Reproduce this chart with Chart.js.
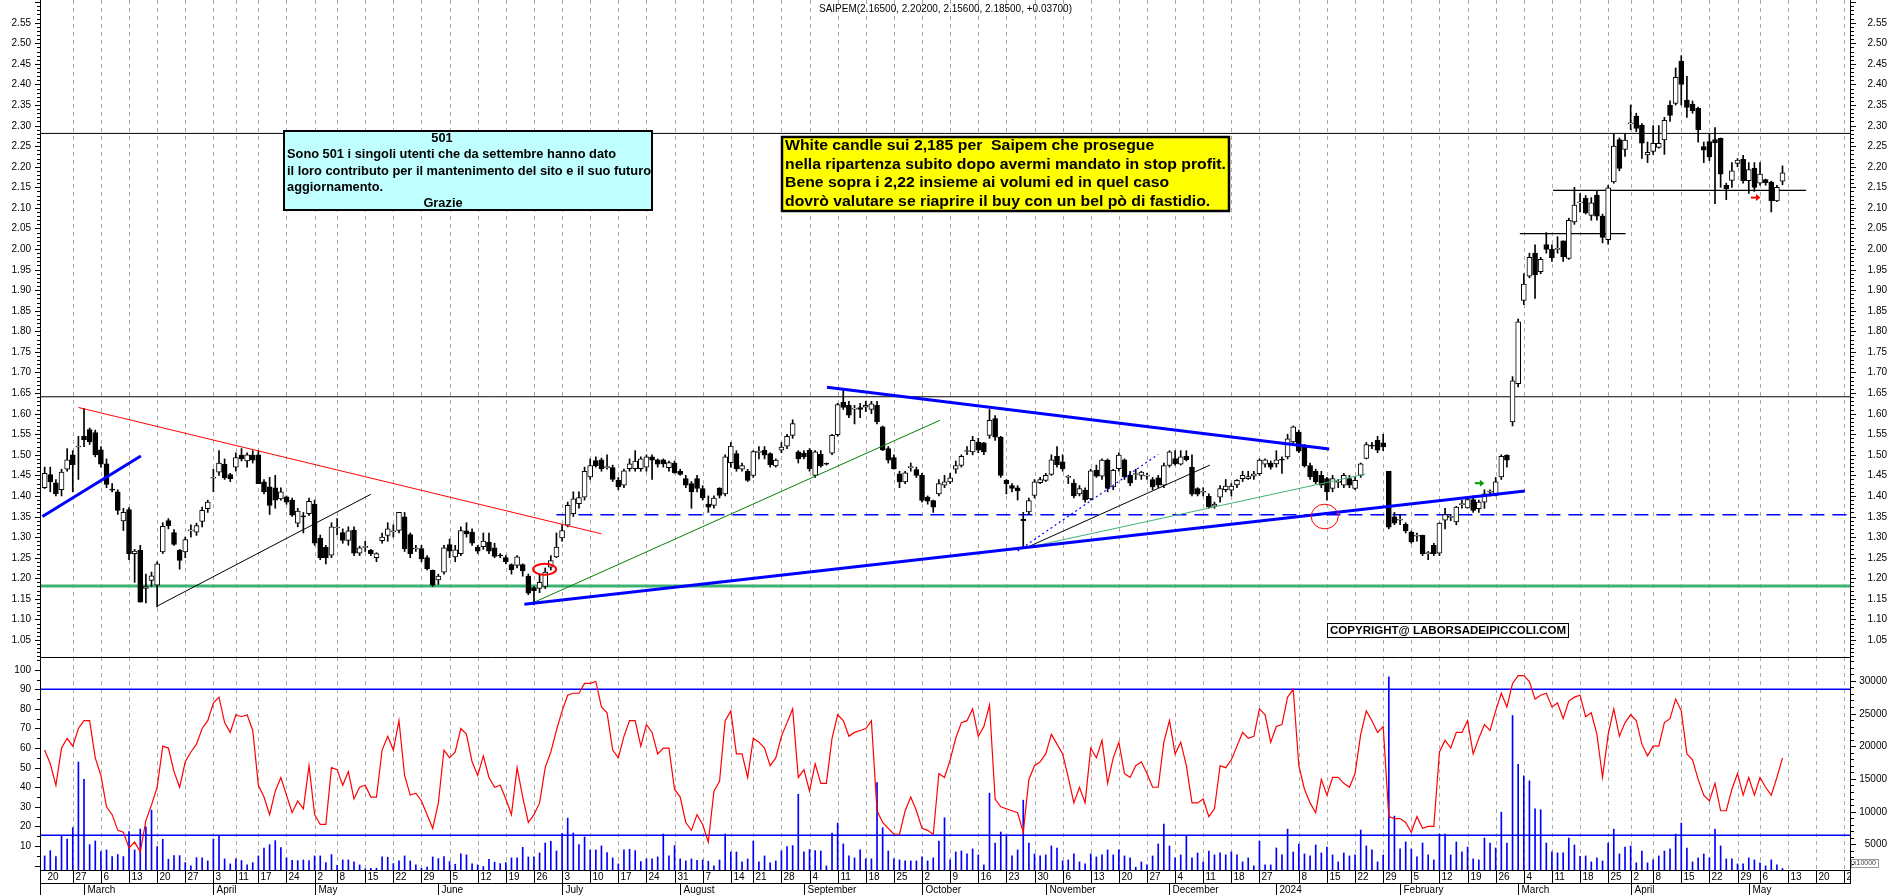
<!DOCTYPE html>
<html>
<head>
<meta charset="utf-8">
<title>SAIPEM</title>
<script src="https://cdn.jsdelivr.net/npm/chart.js@4.4.1/dist/chart.umd.min.js"></script>
<style>
  html, body { margin: 0; padding: 0; background: #fff; }
  #wrap { position: relative; width: 1890px; height: 895px; overflow: hidden; }
  canvas { position: absolute; left: 0; }
  #priceChart { top: 0; }
  #indChart { top: 657px; }
</style>
</head>
<body>
<div id="wrap">
  <canvas id="priceChart" width="1890" height="657"></canvas>
  <canvas id="indChart" width="1890" height="238"></canvas>
</div>
<script>
// ====== data: daily candles, trading day index 0 = 20 Feb 2023 ======
const openP = [
  1.42,1.452,1.432,1.415,1.465,1.50,1.519,1.545,1.561,1.554,
  1.512,1.478,1.416,1.41,1.339,1.367,1.26,1.268,1.175,1.195,
  1.183,1.264,1.34,1.311,1.268,1.264,1.315,1.312,1.338,1.369,
  1.443,1.458,1.477,1.452,1.47,1.499,1.485,1.499,1.50,1.434,
  1.422,1.42,1.393,1.398,1.39,1.334,1.351,1.357,1.38,1.297,
  1.275,1.256,1.322,1.311,1.292,1.317,1.261,1.275,1.268,1.25,
  1.291,1.304,1.313,1.316,1.349,1.306,1.271,1.272,1.25,1.219,
  1.196,1.215,1.282,1.252,1.26,1.315,1.312,1.276,1.277,1.288,
  1.274,1.255,1.25,1.233,1.231,1.233,1.205,1.177,1.175,1.18,
  1.227,1.252,1.298,1.329,1.357,1.381,1.397,1.446,1.486,1.488,
  1.469,1.469,1.438,1.426,1.466,1.466,1.466,1.47,1.495,1.488,
  1.488,1.469,1.48,1.46,1.442,1.43,1.442,1.418,1.38,1.377,
  1.419,1.405,1.481,1.503,1.465,1.46,1.45,1.506,1.511,1.503,
  1.473,1.511,1.521,1.547,1.507,1.504,1.511,1.45,1.501,1.478,
  1.504,1.549,1.628,1.62,1.611,1.615,1.616,1.61,1.62,1.568,
  1.515,1.493,1.454,1.434,1.469,1.464,1.45,1.397,1.389,1.405,
  1.426,1.434,1.465,1.474,1.508,1.507,1.531,1.529,1.547,1.588,
  1.543,1.438,1.425,1.42,1.343,1.361,1.401,1.432,1.438,1.452,
  1.496,1.483,1.445,1.431,1.405,1.414,1.393,1.462,1.448,1.487,
  1.422,1.466,1.488,1.45,1.452,1.45,1.448,1.44,1.444,1.426,
  1.474,1.491,1.477,1.496,1.47,1.418,1.409,1.399,1.375,1.397,
  1.415,1.414,1.427,1.442,1.442,1.448,1.454,1.477,1.48,1.478,
  1.489,1.495,1.531,1.555,1.519,1.474,1.46,1.45,1.442,1.418,
  1.433,1.426,1.442,1.418,1.45,1.491,1.523,1.535,1.529,1.46,
  1.349,1.341,1.331,1.312,1.302,1.304,1.26,1.28,1.261,1.341,
  1.348,1.337,1.379,1.371,1.391,1.369,1.385,1.409,1.401,1.446,
  1.499,1.58,1.673,1.875,1.934,1.99,1.945,2.011,1.999,1.999,
  2.02,1.977,2.066,2.112,2.123,2.082,2.131,2.08,2.023,2.163,
  2.266,2.242,2.304,2.323,2.301,2.229,2.237,2.247,2.265,2.35,
  2.354,2.457,2.362,2.352,2.342,2.249,2.261,2.266,2.269,2.155,
  2.167,2.208,2.218,2.166,2.196,2.16,2.169,2.163,2.117,2.165
];
const highP = [
  1.47,1.47,1.44,1.465,1.515,1.51,1.545,1.612,1.565,1.56,
  1.52,1.49,1.43,1.415,1.37,1.372,1.27,1.28,1.21,1.215,
  1.24,1.335,1.345,1.318,1.27,1.30,1.33,1.334,1.373,1.39,
  1.465,1.51,1.49,1.455,1.505,1.515,1.505,1.51,1.51,1.44,
  1.445,1.45,1.42,1.40,1.395,1.37,1.36,1.395,1.39,1.305,
  1.28,1.335,1.345,1.32,1.325,1.325,1.278,1.29,1.27,1.262,
  1.31,1.335,1.33,1.36,1.36,1.31,1.28,1.28,1.255,1.22,
  1.21,1.28,1.295,1.28,1.325,1.335,1.32,1.28,1.31,1.31,
  1.285,1.26,1.255,1.235,1.255,1.235,1.21,1.18,1.21,1.225,
  1.255,1.31,1.33,1.385,1.41,1.41,1.47,1.49,1.495,1.492,
  1.50,1.475,1.445,1.465,1.49,1.51,1.495,1.50,1.50,1.49,
  1.49,1.485,1.485,1.465,1.45,1.435,1.45,1.425,1.40,1.40,
  1.42,1.50,1.53,1.51,1.48,1.465,1.51,1.52,1.52,1.505,
  1.49,1.53,1.55,1.585,1.51,1.51,1.515,1.51,1.51,1.48,
  1.55,1.625,1.658,1.63,1.62,1.625,1.63,1.63,1.63,1.57,
  1.52,1.50,1.46,1.46,1.48,1.47,1.455,1.40,1.39,1.44,
  1.45,1.455,1.485,1.50,1.52,1.545,1.54,1.53,1.61,1.595,
  1.545,1.44,1.43,1.425,1.36,1.395,1.44,1.445,1.455,1.50,
  1.52,1.50,1.45,1.44,1.425,1.42,1.465,1.475,1.49,1.49,
  1.465,1.505,1.49,1.46,1.465,1.46,1.455,1.445,1.45,1.48,
  1.51,1.51,1.51,1.51,1.50,1.42,1.42,1.405,1.385,1.425,
  1.44,1.43,1.44,1.46,1.46,1.46,1.49,1.49,1.485,1.51,
  1.495,1.55,1.57,1.56,1.525,1.48,1.465,1.46,1.445,1.45,
  1.44,1.455,1.45,1.445,1.48,1.53,1.53,1.545,1.55,1.46,
  1.36,1.355,1.335,1.315,1.31,1.305,1.265,1.285,1.335,1.37,
  1.355,1.375,1.39,1.395,1.40,1.39,1.415,1.415,1.445,1.50,
  1.50,1.69,1.83,1.94,1.99,2.01,1.98,2.04,2.01,2.03,
  2.02,2.075,2.15,2.135,2.13,2.125,2.14,2.085,2.155,2.28,
  2.27,2.28,2.35,2.33,2.305,2.26,2.30,2.30,2.32,2.36,
  2.44,2.47,2.42,2.36,2.345,2.26,2.28,2.295,2.27,2.16,
  2.21,2.22,2.228,2.21,2.21,2.21,2.17,2.165,2.155,2.202
];
const lowP = [
  1.418,1.41,1.40,1.40,1.46,1.41,1.44,1.52,1.525,1.495,
  1.47,1.42,1.41,1.355,1.316,1.245,1.19,1.142,1.14,1.18,
  1.13,1.26,1.32,1.28,1.222,1.25,1.30,1.304,1.325,1.36,
  1.41,1.45,1.44,1.435,1.46,1.485,1.47,1.48,1.43,1.405,
  1.355,1.37,1.39,1.38,1.35,1.325,1.31,1.352,1.28,1.245,
  1.235,1.25,1.305,1.285,1.28,1.255,1.255,1.265,1.255,1.24,
  1.285,1.29,1.30,1.31,1.265,1.25,1.265,1.24,1.22,1.18,
  1.185,1.21,1.25,1.24,1.255,1.30,1.28,1.26,1.27,1.26,
  1.25,1.25,1.235,1.21,1.225,1.205,1.16,1.135,1.165,1.175,
  1.22,1.25,1.29,1.325,1.35,1.37,1.39,1.44,1.47,1.46,
  1.465,1.435,1.415,1.42,1.46,1.46,1.46,1.46,1.44,1.47,
  1.47,1.46,1.455,1.45,1.42,1.37,1.41,1.39,1.36,1.37,
  1.395,1.40,1.47,1.46,1.46,1.435,1.445,1.49,1.49,1.47,
  1.47,1.505,1.515,1.54,1.48,1.49,1.46,1.445,1.47,1.475,
  1.50,1.545,1.61,1.59,1.575,1.59,1.605,1.60,1.575,1.51,
  1.48,1.465,1.42,1.43,1.46,1.445,1.385,1.38,1.36,1.40,
  1.42,1.43,1.455,1.47,1.50,1.50,1.505,1.50,1.54,1.535,
  1.445,1.405,1.41,1.39,1.275,1.355,1.395,1.43,1.435,1.45,
  1.47,1.46,1.43,1.395,1.40,1.385,1.39,1.445,1.44,1.41,
  1.415,1.46,1.44,1.425,1.44,1.44,1.44,1.415,1.42,1.42,
  1.47,1.475,1.475,1.485,1.40,1.40,1.40,1.37,1.37,1.385,
  1.41,1.40,1.42,1.435,1.44,1.44,1.45,1.47,1.465,1.47,
  1.455,1.49,1.525,1.505,1.47,1.44,1.43,1.42,1.39,1.41,
  1.42,1.42,1.42,1.415,1.445,1.49,1.515,1.505,1.51,1.32,
  1.33,1.33,1.31,1.285,1.29,1.255,1.245,1.255,1.255,1.32,
  1.34,1.33,1.37,1.37,1.36,1.36,1.37,1.40,1.40,1.44,
  1.47,1.57,1.665,1.865,1.93,1.88,1.94,1.99,1.97,1.99,
  1.97,1.975,2.06,2.09,2.085,2.07,2.07,2.015,2.012,2.16,
  2.19,2.225,2.29,2.285,2.22,2.21,2.23,2.245,2.23,2.31,
  2.35,2.35,2.32,2.33,2.26,2.21,2.215,2.11,2.15,2.12,
  2.15,2.20,2.16,2.135,2.14,2.155,2.155,2.09,2.115,2.156
];
const closeP = [
  1.455,1.434,1.405,1.458,1.488,1.476,1.521,1.537,1.531,1.50,
  1.477,1.428,1.414,1.365,1.36,1.26,1.266,1.142,1.18,1.206,
  1.235,1.326,1.328,1.282,1.243,1.294,1.317,1.328,1.365,1.385,
  1.445,1.48,1.444,1.442,1.493,1.49,1.50,1.487,1.43,1.41,
  1.377,1.39,1.41,1.385,1.353,1.363,1.349,1.387,1.285,1.25,
  1.25,1.325,1.324,1.292,1.315,1.261,1.274,1.277,1.26,1.26,
  1.30,1.32,1.315,1.36,1.272,1.26,1.273,1.247,1.223,1.183,
  1.205,1.274,1.266,1.269,1.316,1.308,1.285,1.266,1.29,1.266,
  1.253,1.254,1.24,1.221,1.252,1.218,1.164,1.17,1.19,1.215,
  1.243,1.276,1.316,1.377,1.393,1.396,1.46,1.474,1.473,1.466,
  1.471,1.44,1.422,1.461,1.478,1.485,1.49,1.495,1.487,1.477,
  1.478,1.481,1.456,1.452,1.426,1.41,1.418,1.396,1.373,1.395,
  1.401,1.495,1.521,1.466,1.474,1.438,1.508,1.508,1.499,1.476,
  1.487,1.519,1.545,1.576,1.49,1.495,1.466,1.507,1.473,1.477,
  1.547,1.622,1.615,1.596,1.613,1.61,1.62,1.624,1.58,1.512,
  1.487,1.466,1.434,1.456,1.471,1.45,1.389,1.387,1.373,1.43,
  1.434,1.444,1.474,1.496,1.51,1.535,1.511,1.507,1.584,1.543,
  1.45,1.43,1.418,1.412,1.339,1.389,1.434,1.44,1.45,1.488,
  1.476,1.466,1.447,1.40,1.418,1.391,1.461,1.448,1.487,1.418,
  1.462,1.499,1.446,1.431,1.454,1.458,1.45,1.422,1.426,1.474,
  1.507,1.478,1.495,1.488,1.404,1.404,1.411,1.373,1.38,1.418,
  1.424,1.424,1.438,1.45,1.447,1.454,1.487,1.488,1.47,1.488,
  1.487,1.539,1.568,1.509,1.473,1.446,1.434,1.426,1.41,1.442,
  1.435,1.45,1.426,1.438,1.478,1.525,1.521,1.511,1.519,1.324,
  1.334,1.342,1.315,1.288,1.304,1.26,1.261,1.26,1.334,1.355,
  1.35,1.373,1.381,1.391,1.365,1.385,1.405,1.411,1.434,1.496,
  1.487,1.68,1.823,1.915,1.98,1.937,1.975,1.999,1.979,2.001,
  1.981,2.07,2.107,2.114,2.088,2.112,2.08,2.028,2.149,2.25,
  2.196,2.265,2.306,2.293,2.257,2.235,2.257,2.257,2.313,2.325,
  2.417,2.40,2.344,2.336,2.29,2.24,2.224,2.258,2.182,2.147,
  2.19,2.216,2.166,2.193,2.15,2.182,2.161,2.117,2.15,2.185
];
const rsiVals = [
  59,52,41,60,65,61,70,74,74,55,
  46,30,26,18,17,9,12,7,23,31,
  40,61,60,48,40,53,58,62,70,74,
  83,86,73,68,77,76,77,69,41,35,
  26,38,45,36,27,33,29,51,26,21,
  21,50,49,41,48,34,40,41,35,35,
  59,66,59,74,46,36,37,33,26,19,
  32,59,55,58,70,67,53,46,56,45,
  40,41,34,26,50,35,22,26,32,50,
  58,69,79,87,88,88,93,93,94,81,
  78,59,55,66,74,74,61,72,68,57,
  60,60,39,35,22,18,26,21,12,38,
  43,74,79,57,57,45,65,63,60,51,
  55,66,73,80,45,49,38,52,42,42,
  65,77,74,66,68,69,70,74,28,22,
  19,16,16,28,35,28,19,18,16,47,
  45,54,65,73,74,80,66,71,82,34,
  30,29,28,27,17,44,51,53,57,67,
  62,57,45,32,40,32,60,55,64,42,
  55,63,47,45,51,53,47,40,40,63,
  74,57,63,51,32,32,34,25,29,51,
  50,54,61,68,65,66,80,77,63,71,
  72,86,90,51,39,32,27,44,36,45,
  45,42,40,47,67,79,74,68,71,25,
  24,24,22,17,25,19,20,20,58,64,
  60,68,68,74,57,65,72,69,79,88,
  81,93,97,97,94,85,87,88,81,83,
  75,84,86,87,76,78,67,45,67,80,
  66,73,77,74,62,56,61,61,73,75,
  85,79,57,54,44,36,33,42,28,28,
  39,47,36,45,36,45,40,36,45,55
];
const volVals = [
  3220,4035,3120,6370,5810,7540,17590,14950,4950,5510,
  3880,4140,3120,3430,3120,6930,4140,7330,7690,10230,
  4640,5760,2720,3270,3270,2200,1700,2970,2920,2460,
  5810,6370,2770,2000,2770,2510,1850,2200,3220,4440,
  4950,5560,4490,2920,2560,2510,2610,2510,3220,3220,
  2200,3430,1800,2610,2610,2310,1850,1240,1340,1340,
  3070,3020,2050,2460,3220,2460,1850,1340,1500,3070,
  2820,3120,2360,1950,3530,3380,2000,1850,1600,2720,
  2260,2050,2200,2920,2920,4540,3070,3070,3680,5200,
  5460,3980,6680,9010,6730,4950,6120,4140,4140,4750,
  3730,2920,2000,4140,4240,4035,2360,2770,2770,3070,
  6570,3220,4800,2770,2460,2770,2560,2610,2410,1700,
  2610,6570,3830,3830,2310,2770,5510,2310,3220,2160,
  2460,3980,4640,4800,12660,3830,4190,4035,3980,1700,
  6730,8250,5050,3220,2920,4140,2770,2770,14440,7540,
  3980,2770,2610,2460,2460,2460,3070,2460,2920,5510,
  9060,2610,3830,3980,3530,4290,3380,1850,12820,5200,
  6880,6420,3220,4140,11750,5200,3530,3220,3380,4750,
  4440,2460,2610,3530,2310,2000,3530,3070,3380,4140,
  3380,4140,3220,2920,1500,2310,1850,3220,5050,8100,
  4750,2920,3380,6370,2920,3680,2310,3980,3380,3680,
  3380,3830,3380,2310,2920,1700,5510,1850,1850,4440,
  3380,7330,3830,5050,3530,3220,4900,3680,4590,3380,
  2310,3680,3220,3380,7180,4750,4140,2310,3380,30600,
  9310,4290,5360,4290,3070,5200,3380,2610,6570,6570,
  3380,5360,3830,4590,2770,2610,5960,5200,4440,9920,
  5200,24700,17230,15460,14700,10430,10280,5200,3830,3680,
  3680,5960,4900,3170,3220,2310,2920,2460,5200,7330,
  3530,4590,4750,2160,3980,2160,2610,3220,3980,4290,
  6570,8250,4440,2310,2920,3530,2920,7330,4750,2770,
  2770,2000,2000,2920,2610,2160,1700,2610,1850,1300
];

// x axis: first trading day of each week / month (trading day index)
const weekTickIdx = [0,5,10,15,20,25,30,34,38,43,48,52,57,62,67,72,77,82,87,92,97,102,107,112,117,122,126,131,136,141,146,151,156,161,166,171,176,181,186,191,196,201,206,211,216,223,228,233,238,243,248,253,258,263,268,273,278,282,286,291,296,301,305,310,315,320];
const weekTickLabels = ['20','27','6','13','20','27','3','11','17','24','2','8','15','22','29','5','12','19','26','3','10','17','24','31','7','14','21','28','4','11','18','25','2','9','16','23','30','6','13','20','27','4','11','18','27','8','15','22','29','5','12','19','26','4','11','18','25','2','8','15','22','29','6','13','20','27'];
const monthTickIdx = [7,30,48,70,92,113,135,156,178,200,219,241,262,282,303];
const monthLabels = ['March','April','May','June','July','August','September','October','November','December','2024','February','March','April','May'];

// drawn levels: [price, fromIdx, toIdx]
const level228  = [2.281, -0.65, 321];
const level164  = [1.641, -0.65, 321];
const level118  = [1.181, -0.65, 321];
const level1355 = [1.3545, 91.0, 321];
const level214  = [2.1425, 268.2, 313.2];
const level204  = [2.0375, 262.3, 281.1];

// drawn trend lines: [[idx, price], [idx, price]]
const trendRed      = [[6.0, 1.615], [99.0, 1.308]];
const trendBlueLeft = [[-0.4, 1.35], [17.1, 1.497]];
const trendBlack1   = [[20.1, 1.133], [58.0, 1.404]];
const trendBlueBase = [[85.3, 1.137], [263.2, 1.412]];
const trendBlueTop  = [[139.1, 1.664], [228.4, 1.514]];
const trendGreen    = [[87.1, 1.142], [159.2, 1.584]];
const trendBlueDot  = [[173.0, 1.266], [198.0, 1.501]];
const trendBlack2   = [[174.5, 1.274], [207.2, 1.475]];
const trendSeaGreen = [[174.5, 1.274], [234.8, 1.453]];

// marks: [idx, price]
const ovalMark   = [88.9, 1.222];
const circleMark = [227.6, 1.350];
const greenArrow = [254.3, 1.431];
const redArrow   = [303.4, 2.125];

// indicator levels (RSI scale)
const rsiLevels = [90, 15.5];

const X_MIN = -0.65, X_MAX = 321;
const FONT = '"Liberation Sans", Arial, sans-serif';

// ====== helpers ======
function hl(ctx, x0, x1, y) { ctx.beginPath(); ctx.moveTo(x0, y); ctx.lineTo(x1, y); ctx.stroke(); }
function vl(ctx, x, y0, y1) { ctx.beginPath(); ctx.moveTo(x, y0); ctx.lineTo(x, y1); ctx.stroke(); }

function drawWeekGrid(ctx, xs, top, bottom) {
  ctx.save();
  ctx.strokeStyle = '#a8a8a8'; ctx.lineWidth = 1; ctx.setLineDash([4, 4]);
  weekTickIdx.forEach((i, k) => {
    if (k === 0) return;               // first week sits on the axis
    const px = Math.round(xs.getPixelForValue(i)) + 0.5;
    if (px > xs.right) return;
    vl(ctx, px, top, bottom);
  });
  ctx.restore();
}

// text squeezed horizontally like the original (sx = horizontal scale)
function textFit(ctx, font, longest, targetW) {
  ctx.font = font;
  return targetW / ctx.measureText(longest).width;
}
function drawLines(ctx, font, sx, items) {
  ctx.save();
  ctx.font = font; ctx.fillStyle = '#000'; ctx.textBaseline = 'middle';
  items.forEach(([t, px, py, align]) => {
    ctx.save(); ctx.translate(px, py); ctx.scale(sx, 1);
    ctx.textAlign = align || 'left'; ctx.fillText(t, 0, 0);
    ctx.restore();
  });
  ctx.restore();
}

function arrowRight(ctx, px, py, color) {
  ctx.save();
  ctx.strokeStyle = color; ctx.fillStyle = color; ctx.lineWidth = 2;
  hl(ctx, px, px + 6, py);
  ctx.beginPath(); ctx.moveTo(px + 5, py - 3.5); ctx.lineTo(px + 9.5, py); ctx.lineTo(px + 5, py + 3.5); ctx.closePath(); ctx.fill();
  ctx.restore();
}

function seg(p) { return p.map(([x, y]) => ({ x, y })); }
function levelSeg(l) { return [{ x: l[1], y: l[0] }, { x: l[2], y: l[0] }]; }
function lineDs(data, color, width, dash, order, yAxisID) {
  return { type: 'line', data, borderColor: color, borderWidth: width, borderDash: dash || [],
           pointRadius: 0, fill: false, tension: 0, order: order, yAxisID: yAxisID || 'y' };
}

// ====== price panel decorations ======
const priceDecor = {
  id: 'priceDecor',
  beforeDatasetsDraw(chart) {
    drawWeekGrid(chart.ctx, chart.scales.x, chart.chartArea.top, chart.chartArea.bottom);
  },
  afterDatasetsDraw(chart) {
    const { ctx, scales: { x, y } } = chart;
    ctx.save();
    // red oval + red circle
    ctx.strokeStyle = '#ff0000';
    ctx.lineWidth = 2;
    ctx.beginPath(); ctx.ellipse(x.getPixelForValue(ovalMark[0]), y.getPixelForValue(ovalMark[1]), 11.5, 5.5, 0, 0, Math.PI * 2); ctx.stroke();
    ctx.lineWidth = 1;
    ctx.beginPath(); ctx.ellipse(x.getPixelForValue(circleMark[0]), y.getPixelForValue(circleMark[1]), 13.5, 12.3, 0, 0, Math.PI * 2); ctx.stroke();
    ctx.restore();
    arrowRight(ctx, x.getPixelForValue(greenArrow[0]), y.getPixelForValue(greenArrow[1]), '#00a000');
    arrowRight(ctx, x.getPixelForValue(redArrow[0]), y.getPixelForValue(redArrow[1]), '#ff0000');
  },
  afterDraw(chart) {
    const { ctx, scales: { y }, chartArea: a } = chart;

    // cyan note box
    ctx.save();
    ctx.fillStyle = '#c0ffff'; ctx.fillRect(284, 131, 368, 79);
    ctx.strokeStyle = '#000'; ctx.lineWidth = 2; ctx.strokeRect(284, 131, 368, 79);
    ctx.restore();
    const fC = 'bold 12px ' + FONT;
    const sC = textFit(ctx, fC, 'il loro contributo per il mantenimento del sito e il suo futuro', 364);
    drawLines(ctx, fC, sC, [
      ['501', 442, 138.5, 'center'],
      ['Sono 501 i singoli utenti che da settembre hanno dato', 287, 155],
      ['il loro contributo per il mantenimento del sito e il suo futuro', 287, 171.5],
      ['aggiornamento.', 287, 188],
      ['Grazie', 443, 204, 'center']
    ]);

    // yellow note box
    ctx.save();
    ctx.fillStyle = '#ffff00'; ctx.fillRect(782, 137, 447, 74);
    ctx.strokeStyle = '#000'; ctx.lineWidth = 2.5; ctx.strokeRect(782, 137, 447, 74);
    ctx.restore();
    const fY = 'bold 14px ' + FONT;
    const sY = textFit(ctx, fY, 'nella ripartenza subito dopo avermi mandato in stop profit.', 441);
    drawLines(ctx, fY, sY, [
      ['White candle sui 2,185 per  Saipem che prosegue', 785, 146],
      ['nella ripartenza subito dopo avermi mandato in stop profit.', 785, 165],
      ['Bene sopra i 2,22 insieme ai volumi ed in quel caso', 785, 183.5],
      ['dovrò valutare se riaprire il buy con un bel pò di fastidio.', 785, 202.5]
    ]);

    // copyright box
    ctx.save();
    ctx.fillStyle = '#fff'; ctx.fillRect(1328, 623.5, 240, 14);
    ctx.strokeStyle = '#000'; ctx.lineWidth = 1; ctx.strokeRect(1327.5, 623.5, 241, 14);
    ctx.restore();
    const fK = 'bold 11px ' + FONT;
    const sK = textFit(ctx, fK, 'COPYRIGHT@ LABORSADEIPICCOLI.COM', 236);
    drawLines(ctx, fK, sK, [['COPYRIGHT@ LABORSADEIPICCOLI.COM', 1330, 631]]);

    // title
    const fT = '10px ' + FONT;
    const sT = textFit(ctx, fT, 'SAIPEM(2.16500, 2.20200, 2.15600, 2.18500, +0.03700)', 253);
    drawLines(ctx, fT, sT, [['SAIPEM(2.16500, 2.20200, 2.15600, 2.18500, +0.03700)', (a.left + a.right) / 2, 9, 'center']]);

    // price axes left + right
    ctx.save();
    ctx.strokeStyle = '#000'; ctx.lineWidth = 1;
    vl(ctx, a.left - 0.5, 0, a.bottom);
    vl(ctx, a.right + 0.5, 0, a.bottom);
    ctx.font = '10px ' + FONT; ctx.fillStyle = '#000'; ctx.textBaseline = 'middle'; ctx.textAlign = 'right';
    for (let k = 101; k <= 260; k++) {
      const py = Math.round(y.getPixelForValue(k / 100)) + 0.5;
      const len = (k % 5 === 0) ? 5 : 3;
      hl(ctx, a.left - 1 - len, a.left - 1, py);
      hl(ctx, a.right + 1, a.right + 1 + len, py);
      if (k % 5 === 0 && k >= 105 && k <= 255) {
        const t = (k / 100).toFixed(2);
        ctx.fillText(t, 31, py);
        ctx.fillText(t, 1887, py);
      }
    }
    ctx.restore();
  }
};

// ====== indicator panel decorations ======
const indDecor = {
  id: 'indDecor',
  beforeDatasetsDraw(chart) {
    drawWeekGrid(chart.ctx, chart.scales.x, chart.chartArea.top, chart.chartArea.bottom);
  },
  afterDraw(chart) {
    const { ctx, scales: { x, yr, yv }, chartArea: a } = chart;
    const H = chart.height;
    const rowY = a.bottom + 13;
    ctx.save();
    ctx.strokeStyle = '#000'; ctx.lineWidth = 1;
    hl(ctx, a.left - 1, a.right + 1, 0.5);
    hl(ctx, a.left - 1, a.right + 1, a.bottom + 0.5);
    hl(ctx, a.left - 1, a.right + 1, rowY + 0.5);
    vl(ctx, a.left - 0.5, 0, H);
    vl(ctx, a.right + 0.5, 0, rowY);

    // rsi axis (left)
    ctx.font = '10px ' + FONT; ctx.fillStyle = '#000'; ctx.textBaseline = 'middle'; ctx.textAlign = 'right';
    for (let v = 0; v <= 105; v += 5) {
      const py = Math.round(yr.getPixelForValue(v)) + 0.5;
      hl(ctx, a.left - 1 - (v % 10 === 0 ? 5 : 3), a.left - 1, py);
      if (v % 10 === 0 && v >= 10 && v <= 100) ctx.fillText(String(v), 31, py);
    }
    // volume axis (right)
    for (let v = 2000; v <= 33000; v += 1000) {
      const py = Math.round(yv.getPixelForValue(v)) + 0.5;
      hl(ctx, a.right + 1, a.right + 1 + (v % 5000 === 0 ? 5 : 3), py);
      if (v % 5000 === 0 && v <= 30000) ctx.fillText(String(v), 1887, py);
    }
    // x10000 tag
    ctx.strokeStyle = '#999'; ctx.strokeRect(a.right + 1.5, a.bottom - 10.5, 27, 8);
    ctx.font = '7px ' + FONT; ctx.fillStyle = '#444'; ctx.textAlign = 'left';
    ctx.fillText('x10000', a.right + 3, a.bottom - 6.5);
    ctx.strokeStyle = '#000';

    // week row
    ctx.save();
    ctx.beginPath(); ctx.rect(a.left, a.bottom, a.right - a.left, H - a.bottom); ctx.clip();
    ctx.font = '10px ' + FONT; ctx.fillStyle = '#000'; ctx.textAlign = 'left'; ctx.textBaseline = 'middle';
    weekTickIdx.forEach((i, k) => {
      const px = Math.round(x.getPixelForValue(i)) + 0.5;
      if (k > 0) vl(ctx, px, a.bottom, rowY);
      ctx.fillText(weekTickLabels[k], px + 2, a.bottom + 7);
    });
    // month row
    ctx.textBaseline = 'top';
    monthTickIdx.forEach((i, k) => {
      const px = Math.round(x.getPixelForValue(i)) + 0.5;
      vl(ctx, px, rowY, H);
      ctx.fillText(monthLabels[k], px + 3, rowY + 2);
    });
    ctx.restore();
    ctx.restore();
  }
};

// ====== charts ======
const idx = closeP.map((_, i) => i);
const bodyData = idx.map(i => ({ x: i, y: [openP[i], closeP[i]] }));
const wickData = idx.map(i => ({ x: i, y: [lowP[i], highP[i]] }));

new Chart(document.getElementById('priceChart'), {
  type: 'bar',
  data: {
    datasets: [
      lineDs(levelSeg(level118), '#3cb371', 3, null, 9),
      lineDs(levelSeg(level228), '#000', 1, null, 9),
      lineDs(levelSeg(level164), '#000', 1, null, 9),
      lineDs(levelSeg(level1355), '#0000ff', 1.5, [14, 8], 9),
      lineDs(levelSeg(level214), '#000', 1.2, null, 9),
      lineDs(levelSeg(level204), '#000', 1.2, null, 9),
      { type: 'bar', data: wickData, backgroundColor: '#000', barThickness: 1, grouped: false, order: 6 },
      { type: 'bar', data: bodyData, barThickness: 5, grouped: false, order: 5,
        backgroundColor: c => (c.raw && c.raw.y[1] >= c.raw.y[0]) ? '#ffffff' : '#000000',
        borderColor: '#000', borderWidth: 1, borderSkipped: false, minBarLength: 1 },
      lineDs(seg(trendRed), '#ff0000', 1, null, 1),
      lineDs(seg(trendBlueLeft), '#0000ff', 3, null, 1),
      lineDs(seg(trendBlack1), '#000', 1, null, 1),
      lineDs(seg(trendBlueBase), '#0000ff', 3, null, 1),
      lineDs(seg(trendBlueTop), '#0000ff', 3, null, 1),
      lineDs(seg(trendGreen), '#008000', 1, null, 1),
      lineDs(seg(trendBlueDot), '#0000ff', 1.2, [2, 3], 1),
      lineDs(seg(trendBlack2), '#000', 1, null, 1),
      lineDs(seg(trendSeaGreen), '#3cb371', 1, null, 1)
    ]
  },
  options: {
    responsive: false, animation: false, devicePixelRatio: 1, events: [],
    layout: { padding: { left: 41, right: 40, top: 0, bottom: 0 } },
    plugins: { legend: { display: false }, tooltip: { enabled: false } },
    scales: {
      x: { type: 'linear', min: X_MIN, max: X_MAX, offset: false, display: false },
      y: { type: 'linear', min: 1.0086, max: 2.6052, display: false }
    }
  },
  plugins: [priceDecor]
});

new Chart(document.getElementById('indChart'), {
  type: 'bar',
  data: {
    datasets: [
      lineDs(levelSeg([rsiLevels[0], X_MIN, X_MAX]), '#0000ff', 1.5, null, 3, 'yr'),
      lineDs(levelSeg([rsiLevels[1], X_MIN, X_MAX]), '#0000ff', 1.5, null, 3, 'yr'),
      { type: 'bar', yAxisID: 'yv', data: idx.map(i => ({ x: i, y: volVals[i] })),
        backgroundColor: '#0000ff', barThickness: 1, grouped: false, order: 2 },
      { type: 'line', yAxisID: 'yr', data: idx.map(i => ({ x: i, y: rsiVals[i] })),
        borderColor: '#ff0000', borderWidth: 1.2, pointRadius: 0, tension: 0, fill: false, order: 1 }
    ]
  },
  options: {
    responsive: false, animation: false, devicePixelRatio: 1, events: [],
    layout: { padding: { left: 41, right: 40, top: 0, bottom: 25 } },
    plugins: { legend: { display: false }, tooltip: { enabled: false } },
    scales: {
      x: { type: 'linear', min: X_MIN, max: X_MAX, offset: false, display: false },
      yr: { type: 'linear', position: 'left', min: -2.25, max: 106.5, display: false },
      yv: { type: 'linear', position: 'right', min: 1070, max: 33640, display: false }
    }
  },
  plugins: [indDecor]
});
</script>
</body>
</html>
